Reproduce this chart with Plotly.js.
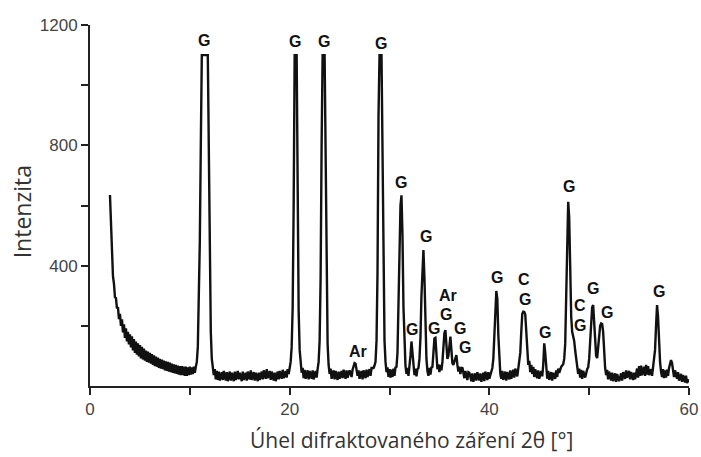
<!DOCTYPE html>
<html>
<head>
<meta charset="utf-8">
<script src="https://cdn.plot.ly/plotly-3.0.1.min.js"></script>
<style>html,body{margin:0;padding:0;background:#fff;}#chart{width:701px;height:457px;}</style>
</head>
<body>
<div id="chart"></div>
<script>
// Diffraction angle 2θ [°]
const twoTheta = [
2.0,2.05,2.1,2.15,2.2,2.25,2.3,2.4,2.5,2.6,2.7,2.8,2.9,3.0,3.1,3.2,3.3,3.4,3.5,3.6,3.7,3.8,3.9,
4.0,4.1,4.2,4.3,4.4,4.5,4.6,4.7,4.8,4.9,5.0,5.1,5.2,5.3,5.4,5.5,5.6,5.7,5.8,5.9,
6.0,6.1,6.2,6.3,6.4,6.5,6.6,6.7,6.8,6.9,7.0,7.1,7.2,7.3,7.4,7.5,7.6,7.7,7.8,7.9,
8.0,8.1,8.2,8.3,8.4,8.5,8.6,8.7,8.8,8.9,9.0,9.1,9.2,9.3,9.4,9.5,9.6,9.7,9.8,9.9,
10.0,10.1,10.2,10.3,10.4,10.5,10.6,10.7,10.8,10.9,11.0,11.1,11.2,11.8,11.9,
12.0,12.1,12.2,12.3,12.4,12.5,12.6,12.7,12.8,12.9,13.0,13.2,13.3,13.4,13.6,13.7,13.8,
14.0,14.1,14.2,14.4,14.5,14.6,14.8,14.9,15.0,15.2,15.3,15.4,15.6,15.7,15.8,
16.0,16.1,16.2,16.4,16.5,16.6,16.8,16.9,17.0,17.2,17.3,17.4,17.6,17.7,17.8,
18.0,18.1,18.2,18.4,18.5,18.6,18.8,18.9,19.0,19.2,19.3,19.4,19.6,19.7,19.8,19.9,
20.0,20.1,20.2,20.3,20.4,20.5,20.7,20.8,20.9,21.0,21.1,21.2,21.3,21.4,21.5,21.6,21.8,21.9,
22.0,22.2,22.3,22.4,22.6,22.7,22.8,22.9,23.0,23.1,23.2,23.3,23.5,23.6,23.7,23.8,23.9,
24.0,24.1,24.2,24.4,24.5,24.6,24.8,24.9,25.0,25.2,25.3,25.4,25.6,25.7,25.8,
26.0,26.2,26.3,26.4,26.5,26.6,26.7,26.8,26.9,27.0,27.2,27.3,27.4,27.6,27.7,27.8,
28.0,28.1,28.2,28.4,28.5,28.6,28.7,28.8,28.9,29.0,29.2,29.3,29.4,29.5,29.6,29.7,29.8,29.9,
30.0,30.1,30.2,30.3,30.4,30.5,30.6,30.7,30.8,30.9,31.0,31.1,31.2,31.3,31.4,31.5,31.6,31.7,31.8,31.9,
32.0,32.1,32.2,32.3,32.4,32.5,32.6,32.7,32.8,32.9,33.0,33.1,33.2,33.3,33.4,33.5,33.6,33.7,33.8,33.9,
34.0,34.1,34.2,34.3,34.4,34.5,34.6,34.7,34.8,34.9,35.0,35.1,35.2,35.3,35.4,35.5,35.6,35.7,35.8,35.9,
36.0,36.1,36.2,36.3,36.4,36.5,36.6,36.7,36.8,36.9,37.0,37.1,37.2,37.3,37.4,37.5,37.6,37.8,37.9,
38.0,38.2,38.3,38.4,38.6,38.7,38.8,39.0,39.1,39.2,39.4,39.5,39.6,39.8,39.9,
40.0,40.2,40.3,40.4,40.5,40.6,40.7,40.8,40.9,41.0,41.1,41.2,41.3,41.4,41.6,41.7,41.8,
42.0,42.1,42.2,42.4,42.5,42.6,42.8,42.9,43.0,43.1,43.2,43.3,43.4,43.5,43.6,43.7,43.8,43.9,
44.0,44.1,44.2,44.3,44.4,44.5,44.6,44.8,44.9,45.0,45.2,45.3,45.4,45.5,45.6,45.7,45.8,45.9,
46.0,46.2,46.3,46.4,46.6,46.7,46.8,46.9,47.0,47.2,47.4,47.5,47.6,47.7,47.8,47.9,
48.0,48.1,48.2,48.3,48.4,48.5,48.6,48.7,48.8,48.9,49.0,49.1,49.2,49.3,49.4,49.6,49.8,49.9,
50.0,50.1,50.2,50.3,50.4,50.5,50.6,50.7,50.8,50.9,51.0,51.1,51.2,51.3,51.4,51.5,51.6,51.7,51.8,51.9,
52.0,52.2,52.3,52.4,52.6,52.7,52.8,53.0,53.2,53.3,53.4,53.6,53.7,53.8,
54.0,54.1,54.2,54.4,54.5,54.6,54.8,54.9,55.0,55.1,55.2,55.3,55.5,55.6,55.7,55.8,55.9,
56.0,56.2,56.3,56.4,56.5,56.6,56.7,56.8,56.9,57.0,57.1,57.2,57.3,57.4,57.5,57.6,57.7,57.8,57.9,
58.0,58.1,58.2,58.3,58.4,58.5,58.6,58.8,58.9,59.0,59.2,59.3,59.4,59.6,59.7,59.8,60.0
];
// Intensity (counts)
const intensity = [
635,580,510,470,420,405,365,340,295,292,258,262,222,240,200,222,178,205,160,192,148,180,138,
172,128,165,118,156,110,148,104,142,98,136,92,130,88,124,84,118,80,114,78,
110,74,106,70,102,66,98,64,94,60,90,58,88,56,84,52,82,50,80,48,
78,46,74,44,72,42,70,40,68,38,66,36,66,36,64,34,64,34,62,36,
64,38,62,40,64,44,64,80,130,260,480,800,1100,1100,780,
420,180,90,58,36,56,22,50,20,48,18,46,20,50,18,46,16,
48,18,44,16,48,20,50,22,44,16,48,20,44,18,48,
22,52,20,46,18,44,16,44,20,48,22,52,24,56,26,
50,20,48,18,44,16,48,22,50,24,54,26,50,28,56,40,
60,80,130,260,600,1100,1100,600,250,120,70,44,60,26,54,24,52,22,
50,24,52,22,50,28,56,80,150,360,800,1100,1100,780,340,140,70,
40,58,24,52,22,50,20,48,24,50,26,54,24,52,28,
52,30,54,62,76,74,56,34,52,24,50,22,52,26,54,30,
56,34,60,60,68,80,150,380,900,1100,1100,800,340,150,80,46,62,30,
56,28,54,30,58,34,62,64,110,260,480,600,634,500,260,120,68,40,60,34,
62,100,148,110,60,36,58,32,56,60,90,160,300,420,452,360,180,90,50,34,
60,38,62,64,110,158,160,100,56,72,46,70,52,80,130,176,186,120,90,100,
130,164,120,76,70,84,96,103,70,48,64,40,58,62,44,26,50,20,46,
44,16,42,14,42,18,46,18,42,14,44,16,48,20,46,
24,50,60,90,150,240,316,290,170,80,40,24,50,20,48,18,46,
22,52,24,54,28,58,32,60,70,110,180,240,247,246,238,170,110,70,
84,46,70,40,64,30,56,26,52,24,50,32,70,142,110,50,24,50,
20,46,18,44,24,52,30,58,44,64,72,90,140,300,480,612,
560,340,230,180,166,150,118,88,64,40,58,28,54,24,50,28,56,62,
90,140,220,262,269,220,140,100,93,130,170,200,208,206,180,110,60,36,54,22,
48,18,44,16,42,14,40,16,42,18,46,24,52,28,
50,22,46,20,44,22,58,28,66,34,68,36,64,34,70,38,66,
36,56,34,60,80,120,200,269,230,140,80,48,30,56,26,52,28,54,34,
60,70,86,76,50,30,52,24,46,18,40,14,36,12,34,10,22
];
// Phase labels: G, Ar, C
const labelText = ['G','G','G','G','Ar','G','G','G','G','Ar','G','G','G','G','C','G','G','G','C','G','G','G','G'];
const labelTheta = [11.42,20.54,23.45,29.16,26.88,31.16,32.3,33.64,34.47,35.9,35.67,37.07,37.58,40.81,43.52,43.59,45.59,48.0,49.1,49.1,50.37,51.77,57.01];
const labelIntensity = [1150,1144,1144,1137,115,676,188,498,191,300,237,191,128,360,354,288,178,664,266,200,324,245,315];
const xTickVals = [0,10,20,30,40,50,60];
const xTickText = ['0','','20','','40','','60'];
const yTickVals = [200,400,600,800,1000,1200];
const yTickText = ['','400','','800','','1200'];
const xTitle = 'Úhel difraktovaného záření 2θ [°]';
const yTitle = 'Intenzita';

const annotations = labelText.map((t, i) => ({
  x: labelTheta[i], y: labelIntensity[i], xref: 'x', yref: 'y',
  text: t, showarrow: false, xanchor: 'center', yanchor: 'middle',
  font: {family: 'Liberation Sans, Arial, sans-serif', size: 16, color: '#111', weight: 'bold'}
}));
annotations.push({
  x: 32.2, y: -0.15, xref: 'x', yref: 'paper', text: xTitle, showarrow: false,
  xanchor: 'center', yanchor: 'middle',
  font: {family: 'Open Sans, sans-serif', size: 21, color: '#333'}
});
annotations.push({
  x: -0.113, y: 0.482, xref: 'paper', yref: 'paper', text: yTitle, showarrow: false,
  textangle: -90, xanchor: 'center', yanchor: 'middle',
  font: {family: 'Open Sans, sans-serif', size: 23, color: '#333'}
});

const trace = {
  x: twoTheta, y: intensity, type: 'scatter', mode: 'lines',
  line: {color: '#111', width: 2.4}, hoverinfo: 'skip'
};

const layout = {
  width: 701, height: 457,
  margin: {l: 90, r: 12, t: 25, b: 71},
  paper_bgcolor: '#fff', plot_bgcolor: '#fff',
  showlegend: false,
  xaxis: {
    range: [0, 60], tickmode: 'array', tickvals: xTickVals, ticktext: xTickText,
    ticks: 'outside', ticklen: 7, tickwidth: 2, tickcolor: '#222',
    showline: true, linewidth: 2, linecolor: '#222', showgrid: false, zeroline: false,
    tickfont: {family: 'Liberation Sans, Arial, sans-serif', size: 17, color: '#444'}
  },
  yaxis: {
    range: [0, 1200], tickmode: 'array', tickvals: yTickVals, ticktext: yTickText,
    ticks: 'outside', ticklen: 7, tickwidth: 2, tickcolor: '#222',
    showline: true, linewidth: 2, linecolor: '#222', showgrid: false, zeroline: false,
    tickfont: {family: 'Liberation Sans, Arial, sans-serif', size: 17, color: '#444'}
  },
  annotations: annotations
};

Plotly.newPlot('chart', [trace], layout, {staticPlot: true, displayModeBar: false});
</script>
</body>
</html>
